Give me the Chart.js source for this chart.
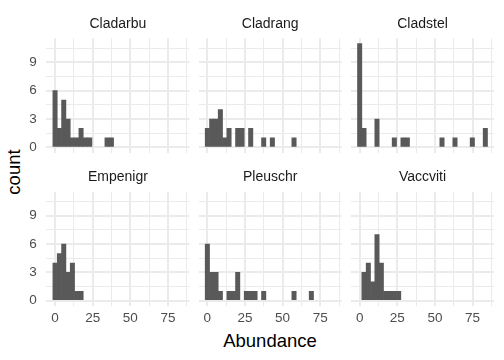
<!DOCTYPE html>
<html><head><meta charset="utf-8">
<script src="https://cdn.jsdelivr.net/npm/chart.js@4.4.1/dist/chart.umd.min.js"></script>
<style>
html,body{margin:0;padding:0;background:#fff;}
#wrap{position:relative;width:504px;height:360px;overflow:hidden;background:#fff;font-family:"Liberation Sans",Arial,sans-serif;}
canvas{position:absolute;}
.t{position:absolute;color:#000;font-size:18.5px;line-height:18.5px;white-space:nowrap;}
#xt{left:270px;top:340.5px;transform:translate(-50%,-50%);}
#yt{left:13.5px;top:172px;transform:translate(-50%,-50%) rotate(-90deg);}
</style></head><body>
<div id="wrap">
  <div class="t" id="xt">Abundance</div>
  <div class="t" id="yt">count</div>
</div>
<script>
// ---- data ----
const species = ["Cladarbu","Cladrang","Cladstel","Empenigr","Pleuschr","Vaccviti"];
const binMids = [0,2.88,5.76,8.64,11.52,14.4,17.28,20.16,23.04,25.92,28.8,31.68,34.56,37.44,40.32,43.2,46.08,48.96,51.84,54.72,57.6,60.48,63.36,66.24,69.12,72,74.88,77.76,80.64,83.52];
const cladarbu = [6,2,5,3,1,1,2,1,1,0,0,0,1,1,0,0,0,0,0,0,0,0,0,0,0,0,0,0,0,0];
const cladrang = [2,3,3,4,1,2,0,2,2,0,2,0,0,1,0,1,0,0,0,0,1,0,0,0,0,0,0,0,0,0];
const cladstel = [11,2,0,0,3,0,0,0,1,0,1,1,0,0,0,0,0,0,0,1,0,0,1,0,0,0,1,0,0,2];
const empenigr = [4,5,6,3,4,1,1,0,0,0,0,0,0,0,0,0,0,0,0,0,0,0,0,0,0,0,0,0,0,0];
const pleuschr = [6,3,3,1,0,1,1,3,0,1,1,1,0,1,0,0,0,0,0,0,1,0,0,0,1,0,0,0,0,0];
const vaccviti = [0,3,4,2,7,4,1,1,1,1,0,0,0,0,0,0,0,0,0,0,0,0,0,0,0,0,0,0,0,0];
const counts = [cladarbu,cladrang,cladstel,empenigr,pleuschr,vaccviti];
const xTicks = [0,25,50,75];
const yTicks = [0,3,6,9];
const xRange = [-5.76, 89.28];
const yRange = [-0.55, 11.55];

// ---- layout ----
const FONT = '"Liberation Sans", Arial, sans-serif';
Chart.defaults.font.family = FONT;
const colL = [46.4, 198.7, 351.0], colW = 143;
const rowTop = [38.3, 191.7], rowH = 114.2;
const xGrid = [];
xTicks.forEach(v => { xGrid.push(v, v + 12.5); });
const yGrid = [];
yTicks.forEach(v => { yGrid.push(v, v + 1.5); });
const wrap = document.getElementById('wrap');

species.forEach((name, i) => {
  const r = Math.floor(i / 3), c = i % 3;
  const pl = colL[c], pr = colL[c] + colW, pt = rowTop[r], pb = rowTop[r] + rowH;
  const cvL = c === 0 ? 0 : Math.floor(pl);
  const cvR = Math.min(504, Math.ceil(pr) + 1);
  const cvT = r === 0 ? 0 : 153;
  const cvB = r === 0 ? 153 : 360;
  const yW = c === 0 ? pl : 0;
  const xH = r === 1 ? 30 : 0;
  const titleH = pt - cvT;
  const titleLH = 14 * 1.2;
  const titleCenter = (r === 0 ? 23.8 : 177.2) - cvT;
  const tPadTop = titleCenter - titleLH / 2;
  const tPadBot = titleH - titleLH - tPadTop;

  const cv = document.createElement('canvas');
  cv.width = cvR - cvL; cv.height = cvB - cvT;
  cv.style.left = cvL + 'px'; cv.style.top = cvT + 'px';
  cv.style.width = (cvR - cvL) + 'px'; cv.style.height = (cvB - cvT) + 'px';
  wrap.appendChild(cv);

  new Chart(cv, {
    type: 'bar',
    data: {
      datasets: [{
        data: binMids.map((x, k) => ({ x: x, y: counts[i][k] || null })),
        backgroundColor: '#595959',
        borderWidth: 0,
        barPercentage: 1,
        categoryPercentage: 1
      }]
    },
    options: {
      responsive: false,
      animation: false,
      devicePixelRatio: 1,
      events: [],
      layout: { padding: { left: pl - cvL - yW, right: cvR - pr, top: 0, bottom: cvB - pb - xH } },
      plugins: {
        legend: { display: false },
        tooltip: { enabled: false },
        title: {
          display: true, text: name, fullSize: false, color: '#1A1A1A',
          font: { family: FONT, size: 14, weight: 'normal', lineHeight: 1.2 },
          padding: { top: tPadTop, bottom: tPadBot }
        }
      },
      scales: {
        x: {
          type: 'linear', min: xRange[0], max: xRange[1], offset: false,
          afterBuildTicks: s => { s.ticks = xGrid.map(v => ({ value: v })); },
          afterFit: s => { s.height = xH; s.paddingLeft = 0; s.paddingRight = 0; },
          ticks: {
            display: r === 1, autoSkip: false, maxRotation: 0, padding: 4.7,
            color: '#4D4D4D', font: { family: FONT, size: 13.5 },
            callback: v => xTicks.includes(v) ? String(v) : ''
          },
          grid: {
            offset: false, drawTicks: false, color: '#EBEBEB',
            lineWidth: ctx => xTicks.includes(ctx.tick.value) ? 2 : 1
          },
          border: { display: false }
        },
        y: {
          type: 'linear', min: yRange[0], max: yRange[1],
          afterBuildTicks: s => { s.ticks = yGrid.map(v => ({ value: v })); },
          afterFit: s => { s.width = yW; s.paddingTop = 0; s.paddingBottom = 0; },
          ticks: {
            display: c === 0, autoSkip: false, padding: 9.7,
            color: '#4D4D4D', font: { family: FONT, size: 13.5 },
            callback: v => yTicks.includes(v) ? String(v) : ''
          },
          grid: {
            drawTicks: false, color: '#EBEBEB',
            lineWidth: ctx => yTicks.includes(ctx.tick.value) ? 2 : 1
          },
          border: { display: false }
        }
      }
    }
  });
});
</script>
</body></html>
